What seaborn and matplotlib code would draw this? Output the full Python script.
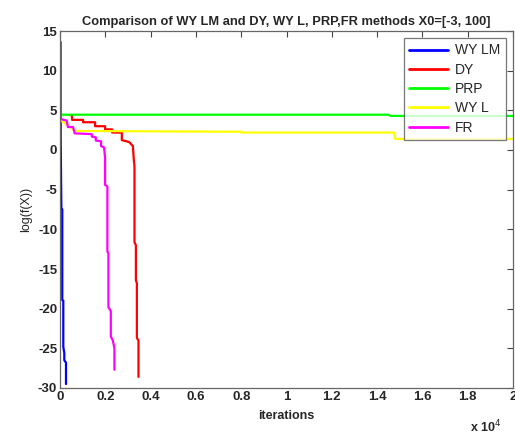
import matplotlib
matplotlib.use("Agg")
import matplotlib.pyplot as plt
import seaborn as sns
import pandas as pd

# Convergence histories: iteration number vs log(f(X)) for each method
wylm_iter = [30, 30, 30, 60, 100, 100, 146, 146, 190, 190, 265, 265]
wylm_logf = [3.8, 1.6, 1.5, -7.3, -7.5, -18.9, -19.0, -24.8, -25.6, -26.5, -26.8, -29.5]

dy_iter = [442, 531, 531, 1018, 1018, 1549, 1549, 1991, 1991, 2301, 2301, 2730, 2730,
           3053, 3217, 3260, 3288, 3288, 3350, 3350, 3394, 3394, 3465, 3465]
dy_logf = [4.4, 4.4, 3.8, 3.8, 3.5, 3.5, 3.0, 3.0, 2.6, 2.6, 2.2, 2.2, 1.25,
           1.0, 0.5, -1.3, -2.0, -11.6, -12.0, -16.4, -16.8, -23.7, -24.0, -28.6]

prp_iter = [0, 14513, 14600, 20000]
prp_logf = [4.45, 4.45, 4.3, 4.3]

wyl_iter = [0, 300, 660, 8000, 8000, 14735, 14800, 20000]
wyl_logf = [3.8, 3.2, 2.4, 2.3, 2.2, 2.2, 1.4, 1.4]

fr_iter = [40, 40, 296, 350, 575, 650, 1403, 1403, 1580, 1580, 1814, 1814, 1947, 1991,
           1991, 2093, 2093, 2137, 2137, 2243, 2243, 2332, 2403, 2403]
fr_logf = [13.6, 3.9, 3.7, 2.9, 2.9, 2.1, 2.0, 1.7, 1.6, 1.2, 1.1, 0.5, 0.3, -1.0,
           -4.4, -4.6, -12.8, -13.0, -19.8, -20.3, -23.5, -24.0, -25.0, -27.7]

methods = ["WY LM", "DY", "PRP", "WY L", "FR"]
colors = ["#0000ff", "#ff0000", "#00ff00", "#ffff00", "#ff00ff"]
series = [(wylm_iter, wylm_logf), (dy_iter, dy_logf), (prp_iter, prp_logf),
          (wyl_iter, wyl_logf), (fr_iter, fr_logf)]

xtick_vals = [0, 2000, 4000, 6000, 8000, 10000, 12000, 14000, 16000, 18000, 20000]
xtick_labels = ["0", "0.2", "0.4", "0.6", "0.8", "1", "1.2", "1.4", "1.6", "1.8", "2"]
ytick_vals = [-30, -25, -20, -15, -10, -5, 0, 5, 10, 15]

frames = []
for name, (it, lf) in zip(methods, series):
    frames.append(pd.DataFrame({"iterations": it, "logf": lf, "method": name}))
df = pd.concat(frames, ignore_index=True)

sns.set_style("white")
plt.rcParams["font.family"] = ["Liberation Sans", "DejaVu Sans"]
plt.rcParams["axes.unicode_minus"] = False

fig = plt.figure(figsize=(5.15, 4.34), dpi=100)
ax = fig.add_axes([60 / 515, 1 - 388 / 434, 453 / 515, 357 / 434])

sns.lineplot(data=df, x="iterations", y="logf", hue="method", hue_order=methods,
             palette=colors, units="method", estimator=None, sort=False,
             linewidth=1.6, ax=ax, legend=True)

ax.set_xlim(0, 20000)
ax.set_ylim(-30, 15)
ax.set_xticks(xtick_vals)
ax.set_xticklabels(xtick_labels)
ax.set_yticks(ytick_vals)
ax.tick_params(direction="in", length=4, width=0.8, color="#444444",
               top=True, right=True, labelsize=9.5, pad=2)
for lab in ax.get_xticklabels() + ax.get_yticklabels():
    lab.set_fontweight("bold")
for sp in ax.spines.values():
    sp.set_color("#666666")
    sp.set_linewidth(0.9)

ax.set_xlabel("iterations", fontsize=9, fontweight="bold", labelpad=5)
ax.set_ylabel("log(f(X))", fontsize=9, labelpad=4)
ax.set_title("Comparison of WY LM and DY, WY L, PRP,FR methods X0=[-3, 100]",
             fontsize=9.3, fontweight="bold", pad=4)
fig.text(470 / 515, 1 - 427 / 434, r"x 10$^{4}$", fontsize=9, fontweight="bold",
         ha="left", va="center")

leg = ax.legend(loc="upper right", fontsize=10, frameon=True, fancybox=False,
                borderpad=0.4, handlelength=2.8, labelspacing=0.38,
                borderaxespad=0.5, handletextpad=0.5)
leg.get_frame().set_edgecolor("#555555")
leg.get_frame().set_linewidth(0.9)
for line in leg.get_lines():
    line.set_linewidth(2.0)

fig.savefig("out.png", dpi=100)
